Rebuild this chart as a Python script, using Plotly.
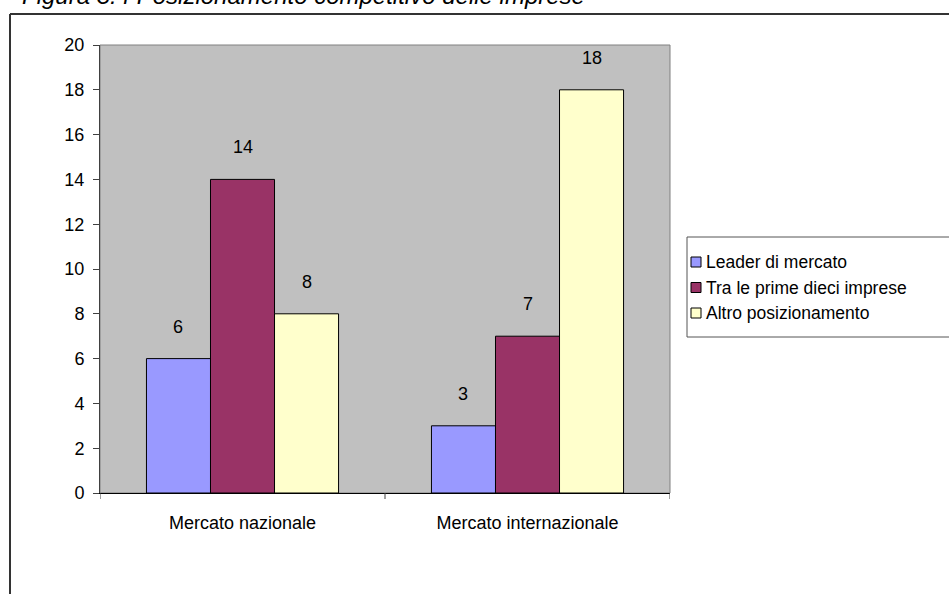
import plotly.graph_objects as go

# Data
categories = ["Mercato nazionale", "Mercato internazionale"]
series_names = ["Leader di mercato", "Tra le prime dieci imprese", "Altro posizionamento"]
leader = [6, 3]
prime_dieci = [14, 7]
altro = [8, 18]
y_ticks = [0, 2, 4, 6, 8, 10, 12, 14, 16, 18, 20]
title_text = "Figura 3.4 Posizionamento competitivo delle imprese"

series_values = [leader, prime_dieci, altro]
colors = ["#9999FF", "#993366", "#FFFFCC"]

W, H = 949, 594
L, R, T, B = 100, 279, 45, 101
PW, PH = W - L - R, H - T - B
BARGAP = 0.326
FONT = "Liberation Sans, Arial, sans-serif"
FS = 18


def px_x(p):
    return (p - L) / PW


def px_y(p):
    return 1 - (p - T) / PH


fig = go.Figure()
for name, vals, col in zip(series_names, series_values, colors):
    fig.add_trace(go.Bar(
        x=list(range(len(categories))), y=vals, name=name,
        marker=dict(color=col, line=dict(color="#000000", width=1)),
        showlegend=False,
    ))

# value labels above each bar
n = len(series_values)
bw = (1 - BARGAP) / n
annotations = []
for j, vals in enumerate(series_values):
    for i, v in enumerate(vals):
        annotations.append(dict(
            x=i + (j - (n - 1) / 2) * bw, y=v, xref="x", yref="y",
            text=str(v), showarrow=False, yanchor="middle", yshift=32,
            font=dict(family=FONT, size=FS, color="#000000"),
        ))

# figure caption (partly outside the page top)
annotations.append(dict(
    x=px_x(20), y=px_y(-5), xref="paper", yref="paper", xanchor="left",
    yanchor="middle", showarrow=False, text="<i>" + title_text + "</i>",
    font=dict(family=FONT, size=24, color="#000000"),
))

shapes = [
    # plot area frame
    dict(type="rect", xref="paper", yref="paper", x0=0, x1=1, y0=0, y1=1,
         line=dict(color="#808080", width=1), layer="below"),
    # outer chart frame
    dict(type="line", xref="paper", yref="paper", x0=px_x(10), x1=px_x(10),
         y0=px_y(14), y1=px_y(620), line=dict(color="#333333", width=2)),
    dict(type="line", xref="paper", yref="paper", x0=px_x(10), x1=px_x(980),
         y0=px_y(14), y1=px_y(14), line=dict(color="#333333", width=2)),
    # legend box
    dict(type="rect", xref="paper", yref="paper", x0=px_x(687), x1=px_x(980),
         y0=px_y(337), y1=px_y(237), line=dict(color="#555555", width=1),
         fillcolor="#FFFFFF"),
]

# legend entries
for k, (name, col) in enumerate(zip(series_names, colors)):
    cy = 262 + k * 25.5
    shapes.append(dict(type="rect", xref="paper", yref="paper",
                       x0=px_x(691), x1=px_x(701), y0=px_y(cy + 5), y1=px_y(cy - 5),
                       fillcolor=col, line=dict(color="#000000", width=1)))
    annotations.append(dict(
        x=px_x(704), y=px_y(cy), xref="paper", yref="paper", xanchor="left",
        yanchor="middle", showarrow=False, text=name,
        font=dict(family=FONT, size=17.5, color="#000000"),
    ))

fig.update_layout(
    width=W, height=H,
    margin=dict(l=L, r=R, t=T, b=B, pad=0),
    paper_bgcolor="#FFFFFF", plot_bgcolor="#C0C0C0",
    barmode="group", bargap=BARGAP, bargroupgap=0,
    font=dict(family=FONT, size=FS, color="#000000"),
    annotations=annotations, shapes=shapes,
    showlegend=False,
)
fig.update_xaxes(
    range=[-0.5, len(categories) - 0.5],
    tickmode="array", tickvals=list(range(len(categories))), ticktext=categories,
    showgrid=False, zeroline=False,
    showline=True, linecolor="#000000", linewidth=1,
    ticks="", ticklabelstandoff=13,
    tickfont=dict(family=FONT, size=FS, color="#000000"),
)
fig.update_yaxes(
    range=[0, 20], tickmode="array", tickvals=y_ticks,
    showgrid=False, zeroline=False,
    showline=True, linecolor="#404040", linewidth=1,
    ticks="outside", ticklen=6, tickcolor="#404040", tickwidth=1,
    ticklabelstandoff=5,
    tickfont=dict(family=FONT, size=FS, color="#000000"),
)

# category boundary ticks on the x axis
for b in [-0.5, 0.5, 1.5]:
    fig.add_shape(type="line", xref="x", yref="paper", x0=b, x1=b,
                  y0=0, y1=px_y(499), line=dict(color="#404040", width=1))

fig.write_html("out.html")
